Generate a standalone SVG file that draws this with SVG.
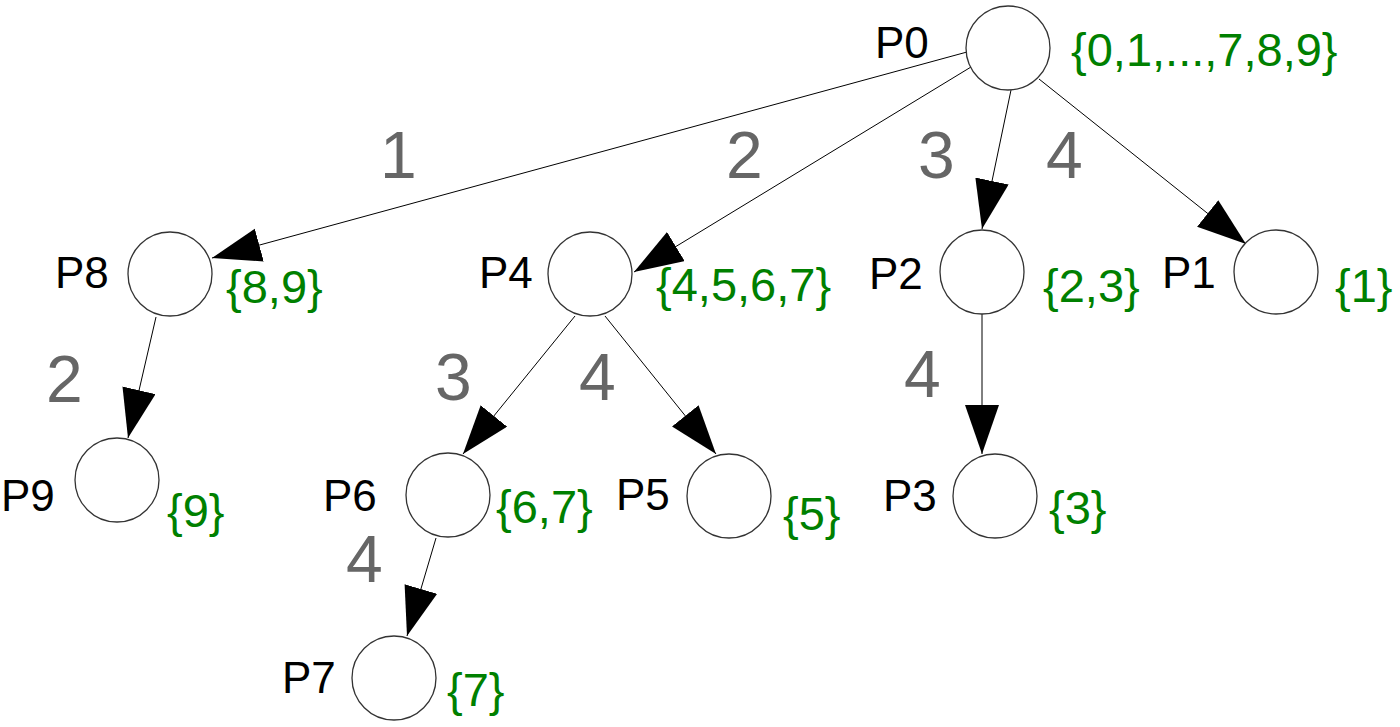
<svg xmlns="http://www.w3.org/2000/svg" width="1400" height="727" viewBox="0 0 1400 727">
<defs>
<marker id="arr" markerUnits="userSpaceOnUse" markerWidth="52" markerHeight="36" refX="49" refY="17" orient="auto">
<path d="M0,0 L49,17 L0,34 z" fill="#000"/>
</marker>
<style>
.node circle{fill:#fff;stroke:#333;stroke-width:1.3}
.lbl{font-family:"Liberation Sans",Arial,sans-serif;font-size:44px;fill:#000}
.set{font-family:"Liberation Sans",Arial,sans-serif;font-size:47px;fill:#008000}
.edge line{stroke:#000;stroke-width:1;marker-end:url(#arr)}
.el{font-family:"Liberation Sans",Arial,sans-serif;font-size:66px;fill:#666}
</style>
</defs>
<rect width="1400" height="727" fill="#fff"/>
<g id="connectors" class="edge">
<line x1="967" y1="52" x2="212" y2="258"/>
<line x1="971" y1="67" x2="634" y2="272"/>
<line x1="1011" y1="90" x2="982" y2="229"/>
<line x1="1039" y1="79" x2="1246" y2="244"/>
<line x1="156" y1="317" x2="128" y2="438"/>
<line x1="575" y1="316" x2="463" y2="454"/>
<line x1="605" y1="316" x2="716" y2="454"/>
<line x1="982" y1="314" x2="982" y2="454"/>
<line x1="436" y1="538" x2="407" y2="636"/>
</g>
<g id="edge-labels">
<text class="el" x="380" y="178">1</text>
<text class="el" x="726" y="178">2</text>
<text class="el" x="918" y="178">3</text>
<text class="el" x="1046" y="178">4</text>
<text class="el" x="46" y="402">2</text>
<text class="el" x="435" y="400">3</text>
<text class="el" x="579" y="400">4</text>
<text class="el" x="904" y="397">4</text>
<text class="el" x="346" y="582">4</text>
</g>
<g id="P0" class="node"><circle cx="1008" cy="48" r="42"/><text class="lbl" x="875" y="58">P0</text><text class="set" x="1071" y="66">{0,1,...,7,8,9}</text></g>
<g id="P8" class="node"><circle cx="170" cy="274" r="42"/><text class="lbl" x="55" y="288">P8</text><text class="set" x="226" y="303">{8,9}</text></g>
<g id="P4" class="node"><circle cx="590" cy="274" r="42"/><text class="lbl" x="479" y="288">P4</text><text class="set" x="656" y="301">{4,5,6,7}</text></g>
<g id="P2" class="node"><circle cx="982" cy="272" r="42"/><text class="lbl" x="869" y="289">P2</text><text class="set" x="1043" y="302">{2,3}</text></g>
<g id="P1" class="node"><circle cx="1276" cy="272" r="42"/><text class="lbl" x="1162" y="288">P1</text><text class="set" x="1335" y="302">{1}</text></g>
<g id="P9" class="node"><circle cx="117" cy="480" r="42"/><text class="lbl" x="1" y="511">P9</text><text class="set" x="167" y="527">{9}</text></g>
<g id="P6" class="node"><circle cx="448" cy="495" r="42"/><text class="lbl" x="323" y="511">P6</text><text class="set" x="496" y="523">{6,7}</text></g>
<g id="P5" class="node"><circle cx="729" cy="496" r="42"/><text class="lbl" x="616" y="510">P5</text><text class="set" x="783" y="530">{5}</text></g>
<g id="P3" class="node"><circle cx="995" cy="496" r="42"/><text class="lbl" x="883" y="511">P3</text><text class="set" x="1049" y="524">{3}</text></g>
<g id="P7" class="node"><circle cx="394" cy="678" r="42"/><text class="lbl" x="282" y="693">P7</text><text class="set" x="447" y="706">{7}</text></g>
</svg>
